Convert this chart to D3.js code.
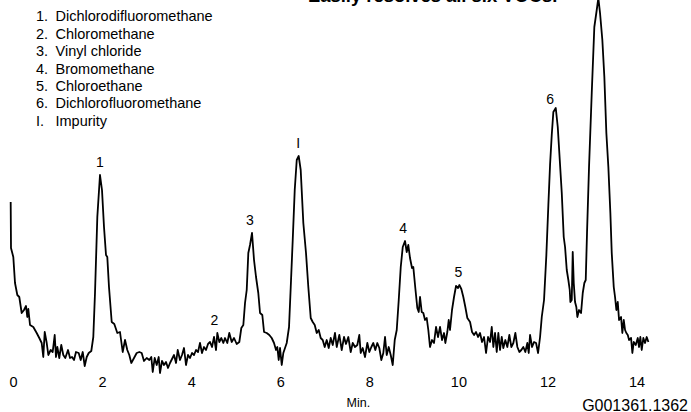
<!DOCTYPE html>
<html>
<head>
<meta charset="utf-8">
<script src="https://cdn.jsdelivr.net/npm/d3@7"></script>
<style>
  html, body { margin: 0; padding: 0; background: #fff; }
  svg { display: block; }
  text { font-family: "Liberation Sans", Arial, Helvetica, sans-serif; fill: #000; }
</style>
</head>
<body>
<svg id="chart" width="691" height="412"></svg>
<script>
// ---- Data ----
const title = "Easily resolves all six VOCs.";
const legendKeys = ["1.", "2.", "3.", "4.", "5.", "6.", "I."];
const legendNames = ["Dichlorodifluoromethane", "Chloromethane", "Vinyl chloride", "Bromomethane", "Chloroethane", "Dichlorofluoromethane", "Impurity"];
const xTicks = [0, 2, 4, 6, 8, 10, 12, 14];
const xLabel = "Min.";
const figureId = "G001361.1362";
const peakLabels = ["1", "2", "3", "I", "4", "5", "6"];
const peakTimes = [1.953, 4.52, 5.32, 6.40, 8.76, 10.0, 12.06];

const times = [
-0.052,-0.045,0.007,0.045,0.097,0.141,0.195,0.247,0.292,0.321,0.344,0.382,0.456,0.532,0.590,0.644,0.680,0.712,0.757,0.793,0.846,0.891,0.936,0.965,0.995,1.039,1.084,1.129,1.174,1.235,1.280,1.325,1.370,1.414,1.475,1.520,1.565,1.610,1.655,1.700,1.758,1.803,1.841,1.893,1.953,1.998,2.043,2.088,2.117,2.155,2.216,2.274,
2.342,2.402,2.463,2.515,2.566,2.611,2.656,2.717,2.777,2.836,2.889,2.941,3.002,3.060,3.105,3.137,3.181,3.226,3.271,3.300,3.345,3.390,3.435,3.480,3.525,3.570,3.615,3.660,3.698,3.749,3.794,3.839,3.884,3.929,3.974,4.019,4.064,4.109,4.154,4.198,4.243,4.288,4.333,4.378,4.423,4.468,4.513,4.558,4.587,4.632,4.677,4.722,
4.760,4.811,4.856,4.910,4.962,5.022,5.081,5.126,5.171,5.209,5.247,5.283,5.321,5.366,5.411,5.456,5.507,5.546,5.597,5.636,5.696,5.754,5.808,5.860,5.905,5.934,5.965,5.995,6.033,6.069,6.107,6.145,6.197,6.242,6.280,6.325,6.370,6.414,6.459,6.518,6.578,6.630,6.684,6.729,6.774,6.819,6.864,6.908,6.953,6.998,7.043,7.088,7.133,7.178,
7.229,7.268,7.326,7.380,7.432,7.476,7.528,7.582,7.627,7.678,7.730,7.775,7.806,7.851,7.903,7.955,8.000,8.045,8.089,8.134,8.179,8.224,8.269,8.314,8.352,8.390,8.435,8.480,8.525,8.570,8.615,8.660,8.705,8.750,8.801,8.839,8.875,8.913,8.958,8.987,9.032,9.077,9.109,9.138,9.176,9.212,9.250,9.288,9.324,9.362,9.407,9.452,9.497,9.542,9.587,9.632,
9.677,9.706,9.751,9.782,9.811,9.856,9.901,9.946,9.991,10.020,10.065,10.110,10.155,10.200,10.261,10.306,10.351,10.395,10.440,10.485,10.530,10.575,10.620,10.665,10.710,10.748,10.784,10.822,10.860,10.896,10.934,10.972,11.008,11.053,11.098,11.143,11.188,11.233,11.278,11.323,11.368,11.412,11.457,11.502,11.547,11.578,11.608,11.653,11.698,11.743,11.788,11.833,11.871,11.922,
11.974,12.019,12.057,12.095,12.131,12.185,12.230,12.275,12.320,12.364,12.394,12.432,12.468,12.499,12.513,12.544,12.566,12.589,12.618,12.647,12.670,12.708,12.753,12.791,12.827,12.858,12.887,12.932,12.993,13.051,13.105,13.141,13.179,13.231,13.276,13.321,13.366,13.411,13.442,13.487,13.516,13.546,13.577,13.606,13.651,13.680,13.712,13.741,13.770,13.802,13.831,13.876,13.905,13.936,13.981,14.026,14.055,14.084,14.115,14.151,14.189,14.227,14.265
];

const signal = [
170,124,115,89,77,75,59,62,66,55,63,47,45,39,34,29,15,40,29,17,22,20,37,15,25,14,27,17,14,22,14,15,12,20,19,12,20,6,15,19,21,35,79,155,197,182,145,117,115,85,50,48,
39,40,20,32,22,17,9,14,19,20,19,11,14,12,15,0,14,7,15,-1,11,7,10,4,9,13,17,9,22,12,17,24,7,17,14,19,17,22,20,29,19,25,22,28,30,25,35,22,39,30,34,29,
34,29,39,30,34,28,30,44,47,69,82,119,127,139,112,95,79,59,57,40,39,37,34,29,22,25,12,24,7,19,24,29,45,92,132,182,212,216,202,149,119,85,54,50,47,39,42,34,32,25,32,24,34,27,
39,25,37,22,35,28,35,20,29,25,27,37,19,24,15,29,20,25,29,22,29,24,12,19,35,17,25,17,7,32,42,72,105,125,131,120,127,114,104,105,84,64,60,75,60,59,52,54,42,25,32,29,45,35,45,32,
39,29,40,52,42,62,75,86,84,87,83,75,65,54,50,40,37,40,35,39,30,35,19,35,30,45,25,39,20,39,22,35,24,32,25,37,25,29,39,25,20,22,25,20,29,19,37,25,30,29,19,35,55,72,
117,167,207,237,260,264,245,212,179,135,125,102,92,82,70,72,120,89,70,65,55,62,59,79,89,92,139,205,279,345,362,374,359,332,295,239,205,159,119,85,75,62,70,52,55,39,52,42,39,37,32,34,19,30,27,34,25,35,22,34,29,35,30
];

// ---- Chart ----
const svg = d3.select("#chart");

const x = d3.scaleLinear().domain([0, 14]).range([13, 636.6]);
const y = d3.scaleLinear().domain([0, 372]).range([372, 0]);

const trace = times.map((t, i) => ({ t, v: signal[i] }));

// trace line
svg.append("path")
  .datum(trace)
  .attr("fill", "none")
  .attr("stroke", "#000")
  .attr("stroke-width", 1.8)
  .attr("stroke-linejoin", "round")
  .attr("d", d3.line().x(d => x(d.t)).y(d => y(d.v)));

// x axis (labels only)
const axis = svg.append("g")
  .attr("transform", "translate(0,377)")
  .call(d3.axisBottom(x).tickValues(xTicks).tickSize(0).tickPadding(0).tickFormat(d3.format("d")));
axis.select(".domain").remove();
axis.selectAll("text")
  .style("font-family", "'Liberation Sans', Arial, sans-serif")
  .style("font-size", "14.5px")
  .attr("fill", "#000");

svg.append("text")
  .attr("x", 346.5).attr("y", 406.5)
  .style("font-size", "12.5px")
  .text(xLabel);

svg.append("text")
  .attr("x", 688).attr("y", 410.5)
  .attr("text-anchor", "end")
  .style("font-size", "16px")
  .text(figureId);

// title (partially clipped at top, as in the source)
svg.append("text")
  .attr("x", 308).attr("y", 1.5)
  .style("font-size", "18.4px")
  .style("font-weight", "bold")
  .text(title);

// legend
const lg = svg.append("g");
legendKeys.forEach((k, i) => {
  const yy = 21.2 + i * 17.45;
  lg.append("text").attr("x", 36).attr("y", yy).style("font-size", "14.5px").text(k);
  lg.append("text").attr("x", 55.5).attr("y", yy).style("font-size", "14.5px").text(legendNames[i]);
});

// peak labels
peakLabels.forEach((lab, i) => {
  const t0 = peakTimes[i];
  const near = trace.filter(d => Math.abs(d.t - t0) <= 0.1);
  const top = d3.max(near, d => d.v);
  svg.append("text")
    .attr("x", x(t0))
    .attr("y", y(top) - 8)
    .attr("text-anchor", "middle")
    .style("font-size", "14px")
    .text(lab);
});
</script>
</body>
</html>
